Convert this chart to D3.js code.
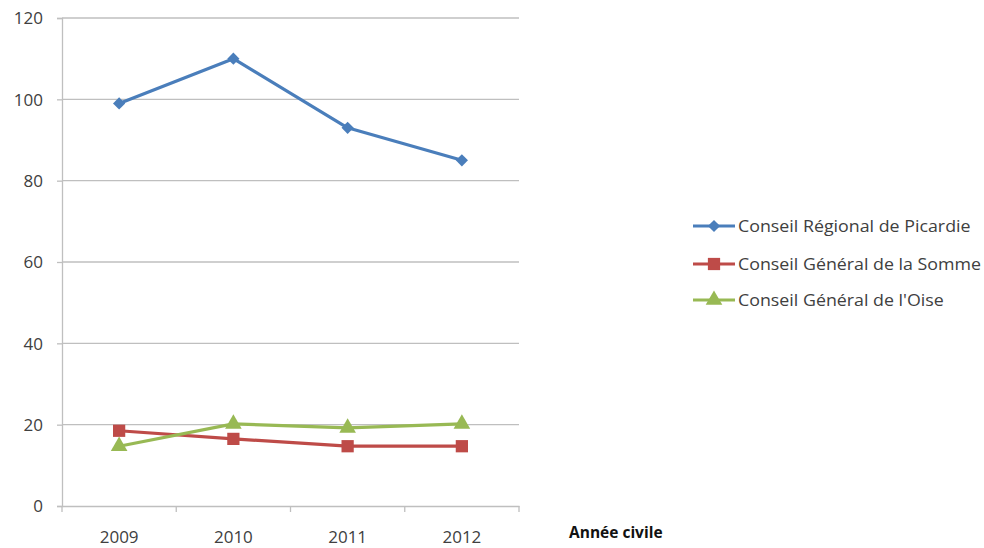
<!DOCTYPE html>
<html><head><meta charset="utf-8">
<script src="https://cdn.jsdelivr.net/npm/d3@7"></script>
<style>
html,body{margin:0;padding:0;background:#fff;}
text{font-family:"Open Sans",sans-serif;fill:#404040;}
</style></head>
<body><svg id="c" width="984" height="548"></svg>
<script>
const categories = ["2009","2010","2011","2012"];
const seriesNames = ["Conseil Régional de Picardie","Conseil Général de la Somme","Conseil Général de l'Oise"];
const picardie = [99, 110, 93, 85];
const somme = [18.5, 16.5, 14.7, 14.7];
const oise = [14.7, 20.2, 19.2, 20.2];
const yTicks = [0,20,40,60,80,100,120];
const xTitle = "Année civile";

const colors = ["#4a7ebb","#be4b48","#98b954"];
const symbols = [d3.symbolDiamond2, d3.symbolSquare, d3.symbolTriangle];
const series = [picardie, somme, oise];

const svg = d3.select("#c");
const L=62,R=519,T=18,B=506;
const x = d3.scaleBand().domain(categories).range([L,R]);
const y = d3.scaleLinear().domain([0,120]).range([B,T]);

// gridlines
svg.append("g").selectAll("line").data(yTicks.filter(d=>d>0)).join("line")
  .attr("x1",L).attr("x2",R).attr("y1",d=>y(d)).attr("y2",d=>y(d))
  .attr("stroke","#bfbfbf").attr("stroke-width",1.3);

const yAx = svg.append("g").attr("transform",`translate(${L},0)`)
  .call(d3.axisLeft(y).tickValues(yTicks).tickSize(5).tickPadding(14));
yAx.select(".domain").attr("stroke","#bfbfbf").attr("stroke-width",1.3);
yAx.selectAll(".tick line").attr("stroke","#bfbfbf").attr("stroke-width",1.3);
yAx.selectAll("text").style("font-size","17px").attr("fill","#404040").attr("dy","0.35em");

const xAx = svg.append("g").attr("transform",`translate(0,${B})`)
  .call(d3.axisBottom(x).tickSize(0).tickPadding(25));
xAx.select(".domain").attr("stroke","#bfbfbf").attr("stroke-width",1.3);
xAx.selectAll("text").style("font-size","17px").attr("fill","#404040");
// boundary tick marks
svg.append("g").selectAll("line").data(categories.map(c=>x(c)).concat([R])).join("line")
  .attr("x1",d=>d).attr("x2",d=>d).attr("y1",B).attr("y2",B+6)
  .attr("stroke","#bfbfbf").attr("stroke-width",1.3);

svg.append("text").attr("x",569).attr("y",538).text(xTitle)
  .style("font-size","15.5px").style("font-weight","bold").style("fill","#111");

const line = d3.line().x((d,i)=>x(categories[i])+x.bandwidth()/2).y(d=>y(d));
const sizes=[95,150,120];
series.forEach((s,k)=>{
  svg.append("path").datum(s).attr("d",line).attr("fill","none")
    .attr("stroke",colors[k]).attr("stroke-width",3.2).attr("stroke-linejoin","round");
  svg.append("g").selectAll("path").data(s).join("path")
    .attr("transform",(d,i)=>`translate(${x(categories[i])+x.bandwidth()/2},${y(d)})`)
    .attr("d",d3.symbol(symbols[k],sizes[k])).attr("fill",colors[k]);
});

// legend
const ly=[226,264,300];
seriesNames.forEach((n,k)=>{
  const g=svg.append("g").attr("transform",`translate(693,${ly[k]})`);
  g.append("line").attr("x1",0).attr("x2",42).attr("stroke",colors[k]).attr("stroke-width",3.2);
  g.append("path").attr("transform","translate(21,0)").attr("d",d3.symbol(symbols[k],sizes[k])).attr("fill",colors[k]);
  g.append("text").attr("transform","translate(45,0) scale(1.08,1)").attr("dy","0.35em").text(n)
    .style("font-size","16.5px").attr("fill","#404040");
});
</script></body></html>
